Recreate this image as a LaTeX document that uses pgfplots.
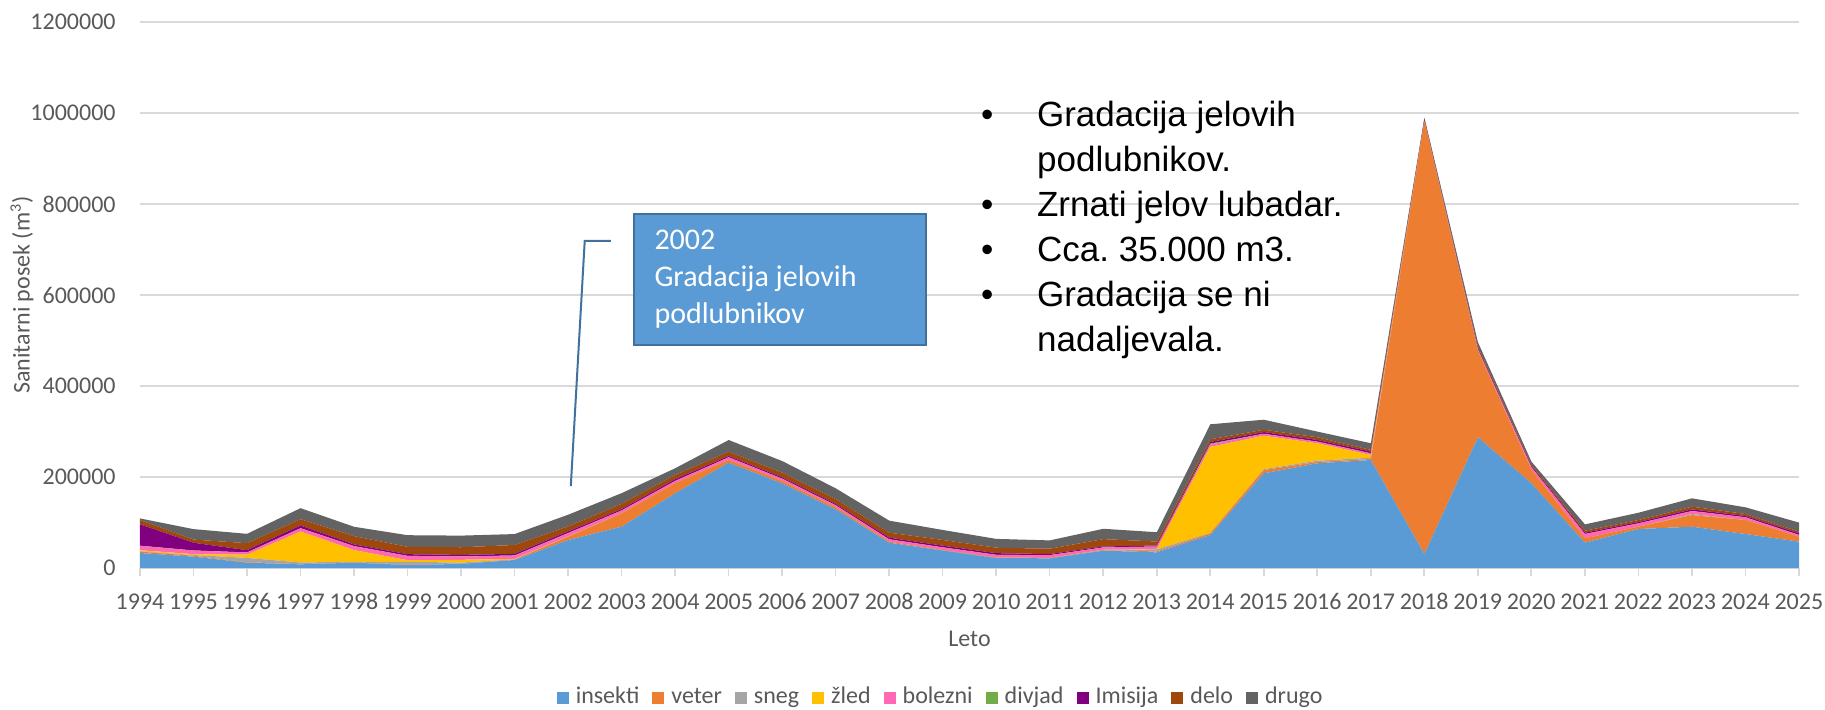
\documentclass[border=0pt]{standalone}
\usepackage{pgfplots}
\pgfplotsset{compat=1.18}
\usepackage{pgfplotstable}
\usepackage{fontspec}
\setmainfont{Carlito}
\newfontfamily\arial{Liberation Sans}
\frenchspacing
\definecolor{cIns}{HTML}{5B9BD5}
\definecolor{cVet}{HTML}{ED7D31}
\definecolor{cSne}{HTML}{A5A5A5}
\definecolor{cZle}{HTML}{FFC000}
\definecolor{cBol}{HTML}{FF69B4}
\definecolor{cDiv}{HTML}{70AD47}
\definecolor{cImi}{HTML}{800080}
\definecolor{cDel}{HTML}{9E480E}
\definecolor{cDru}{HTML}{636363}
\definecolor{gridc}{HTML}{D9D9D9}
\definecolor{labc}{HTML}{595959}
\definecolor{boxfill}{HTML}{5B9BD5}
\definecolor{boxborder}{HTML}{41719C}

\pgfplotstableread{
year ins vet sne zle bol div imi del dru
1994 33000 3000 1000 2000 10000 0 47000 9500 3500
1995 25000 2000 1500 2000 8000 0 17000 7000 23000
1996 11700 1000 9500 7000 5000 0 5000 15400 20500
1997 8000 500 3700 68000 7300 0 5900 13900 24200
1998 11700 1000 1000 25600 8800 0 3700 18300 20500
1999 6600 1000 5900 3700 9500 0 3700 16100 25600
2000 9000 1000 2000 6000 7300 0 3500 16800 25600
2001 17600 1000 500 1000 7000 500 3500 19500 24000
2002 61500 7000 500 500 7300 0 3700 11000 25600
2003 90800 29300 500 0 5900 0 2900 11700 23400
2004 164200 22000 0 0 5100 0 3700 9500 14700
2005 231500 5900 0 0 5900 0 2900 9500 25600
2006 186100 5100 0 0 5100 0 2900 10300 25600
2007 129000 4400 0 0 4400 0 2900 11000 23400
2008 55700 2200 0 0 5100 0 3700 11000 26400
2009 38500 1000 0 0 5900 0 3700 12500 22000
2010 22000 1000 0 0 5900 0 3700 12000 19400
2011 21300 1000 0 0 5900 0 2500 11700 18300
2012 38100 1000 1000 0 5100 0 2200 16100 22700
2013 34400 2000 4400 500 5900 0 2200 8800 20500
2014 72500 3700 1000 189000 5100 2000 3700 5900 33000
2015 208100 7300 2000 73300 4400 0 3700 5100 22000
2016 230100 2900 2900 38100 3700 0 3700 5900 12500
2017 237400 2200 2900 5900 3700 0 3700 3700 14700
2018 30800 950000 0 0 1500 0 3000 1500 3000
2019 287300 190000 0 0 3000 0 3000 3000 10000
2020 186200 29300 0 0 5900 0 2900 2200 7300
2021 55700 9500 0 0 9500 0 2900 4400 13900
2022 85700 5100 0 0 7300 0 2900 4400 16100
2023 90800 25600 2200 0 6600 0 3700 5900 18300
2024 74700 30800 0 0 5900 0 2900 4400 14700
2025 57900 11000 0 0 3700 0 3700 3700 19800
}\data

\begin{document}
\begin{tikzpicture}
\useasboundingbox (-70pt,-70.5pt) rectangle (842.5pt,284pt);
\begin{axis}[
  at={(0,0)}, anchor=south west,
  scale only axis, width=829.5pt, height=273pt,
  xmin=1994, xmax=2025, ymin=0, ymax=1200000,
  xtick={1994,...,2025}, ytick={0,200000,...,1200000},
  scaled y ticks=false,
  /pgf/number format/1000 sep={},
  /pgf/number format/assume math mode=true,
  axis x line*=bottom, axis y line*=left,
  x axis line style={draw=gridc, line width=0.8pt},
  y axis line style={draw=none},
  ymajorgrids, grid style={draw=gridc, line width=0.8pt},
  tick align=outside,
  major tick length=4pt,
  xtick style={draw=gridc, line width=0.8pt},
  ytick style={draw=none},
  tick label style={font=\fontsize{12}{14}\selectfont, text=labc},
  xticklabel style={anchor=base, inner sep=0pt, yshift=-16.5pt, /pgf/number format/1000 sep={}},
  yticklabel style={anchor=east, inner sep=0pt, xshift=-8pt, /pgf/number format/fixed, /pgf/number format/1000 sep={}},
  xlabel={Leto},
  ylabel={Sanitarni posek (m\textsuperscript{3})},
  label style={font=\fontsize{12}{14}\selectfont, text=labc},
  xlabel style={at={(axis description cs:0.5,-0.130)}, anchor=center},
  ylabel style={at={(axis description cs:-0.0711,0.5)}, anchor=center},
  stack plots=y,
  legend columns=-1,
  legend style={at={(axis description cs:0.482,-0.238)}, anchor=center, draw=none,
    font=\fontsize{12}{14}\selectfont, text=labc,
    nodes={inner sep=0pt, text height=8pt, text depth=2.5pt},
    /tikz/every odd column/.append style={column sep=3.5pt},
    /tikz/every even column/.append style={column sep=6.5pt}},
  legend image code/.code={\fill[#1] (0pt,-3pt) rectangle (6pt,3pt);},
]
\addplot[fill=cIns, draw=none] table[x=year, y=ins] {\data} \closedcycle;
\addlegendentry{insekti}
\addplot[fill=cVet, draw=none] table[x=year, y=vet] {\data} \closedcycle;
\addlegendentry{veter}
\addplot[fill=cSne, draw=none] table[x=year, y=sne] {\data} \closedcycle;
\addlegendentry{sneg}
\addplot[fill=cZle, draw=none] table[x=year, y=zle] {\data} \closedcycle;
\addlegendentry{žled}
\addplot[fill=cBol, draw=none] table[x=year, y=bol] {\data} \closedcycle;
\addlegendentry{bolezni}
\addplot[fill=cDiv, draw=none] table[x=year, y=div] {\data} \closedcycle;
\addlegendentry{divjad}
\addplot[fill=cImi, draw=none] table[x=year, y=imi] {\data} \closedcycle;
\addlegendentry{Imisija}
\addplot[fill=cDel, draw=none] table[x=year, y=del] {\data} \closedcycle;
\addlegendentry{delo}
\addplot[fill=cDru, draw=none] table[x=year, y=dru] {\data} \closedcycle;
\addlegendentry{drugo}

% callout
\draw[boxborder, line width=1pt] (axis cs:2002.05,180000) -- (axis cs:2002.31,718700) -- (axis cs:2002.80,718700);
\node[draw=boxborder, line width=1pt, fill=boxfill, text=white,
  minimum width=146pt, minimum height=65.5pt, text width=125pt,
  inner xsep=10.5pt, align=flush left, font=\fontsize{15}{18.5}\selectfont]
  at (axis cs:2005.95,634100) {2002\\Gradacija jelovih\\podlubnikov};

% bullet text
\node[anchor=base west, inner sep=0pt, font=\arial\fontsize{17.5}{22.5}\selectfont]
  at (axis cs:2009.71,969300) {%
  \begin{tabular}[t]{@{}p{28pt}@{}l@{}}
  • & Gradacija jelovih\\
    & podlubnikov.\\
  • & Zrnati jelov lubadar.\\
  • & Cca. 35.000 m3.\\
  • & Gradacija se ni\\
    & nadaljevala.
  \end{tabular}};
\end{axis}
\end{tikzpicture}
\end{document}
